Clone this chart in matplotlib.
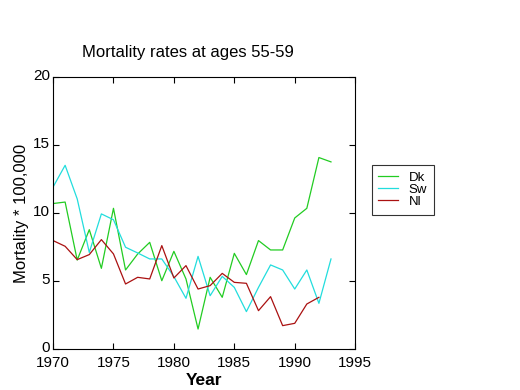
import matplotlib
matplotlib.use("Agg")
import matplotlib.pyplot as plt
import matplotlib.transforms as mtrans

years = list(range(1970, 1994))
dk = [10.69, 10.8, 6.54, 8.77, 5.93, 10.34, 5.81, 6.98, 7.84, 5.02, 7.18, 5.15,
      1.47, 5.27, 3.8, 7.03, 5.47, 7.97, 7.28, 7.28, 9.63, 10.34, 14.07, 13.75]
sw = [11.9, 13.5, 11.03, 7.1, 9.93, 9.5, 7.48, 7.06, 6.62, 6.62, 5.32, 3.73,
      6.81, 3.92, 5.34, 4.53, 2.75, 4.53, 6.18, 5.81, 4.41, 5.81, 3.36, 6.62]
nl_years = list(range(1970, 1993))
nl = [7.97, 7.55, 6.57, 6.94, 8.04, 6.99, 4.78, 5.27, 5.15, 7.6, 5.22, 6.13,
      4.41, 4.66, 5.56, 4.9, 4.83, 2.82, 3.85, 1.72, 1.89, 3.31, 3.8]

xticks = [1970, 1975, 1980, 1985, 1990, 1995]
yticks = [0, 5, 10, 15, 20]

plt.rcParams['font.family'] = ['Liberation Sans', 'DejaVu Sans']

fig = plt.figure(figsize=(5.2, 3.9), dpi=100)
ax = fig.add_axes([0.102, 0.105, 0.581, 0.698])
ax.plot(years, dk, color='#22cc22', lw=0.9, label='Dk')
ax.plot(years, sw, color='#22dddd', lw=0.9, label='Sw')
ax.plot(nl_years, nl, color='#aa1111', lw=0.9, label='Nl')
ax.set_xlim(1970, 1995)
ax.set_ylim(0, 20)
ax.set_xticks(xticks)
ax.set_yticks(yticks)
ax.tick_params(direction='in', top=True, right=True, labelsize=11, length=4, width=0.8)
ax.tick_params(axis='x', pad=5)
ax.tick_params(axis='y', pad=2)
up = mtrans.ScaledTranslation(0, 2 / 72, fig.dpi_scale_trans)
for lbl in ax.get_yticklabels():
    lbl.set_transform(lbl.get_transform() + up)
for s in ax.spines.values():
    s.set_linewidth(0.8)
ax.set_xlabel('Year', fontsize=12.5, fontweight='bold', labelpad=2)
ax.set_ylabel('Mortality * 100,000', fontsize=12, labelpad=3)
fig.text(0.362, 0.865, 'Mortality rates at ages 55-59', fontsize=12, ha='center', va='center')
leg = ax.legend(loc='upper left', bbox_to_anchor=(1.055, 0.677), fontsize=9.5,
                frameon=True, fancybox=False, edgecolor='black', handlelength=1.5,
                borderpad=0.5, labelspacing=0.0, handletextpad=0.8, borderaxespad=0)
leg.get_frame().set_linewidth(0.8)
fig.savefig('out.png', dpi=100, facecolor='white')
